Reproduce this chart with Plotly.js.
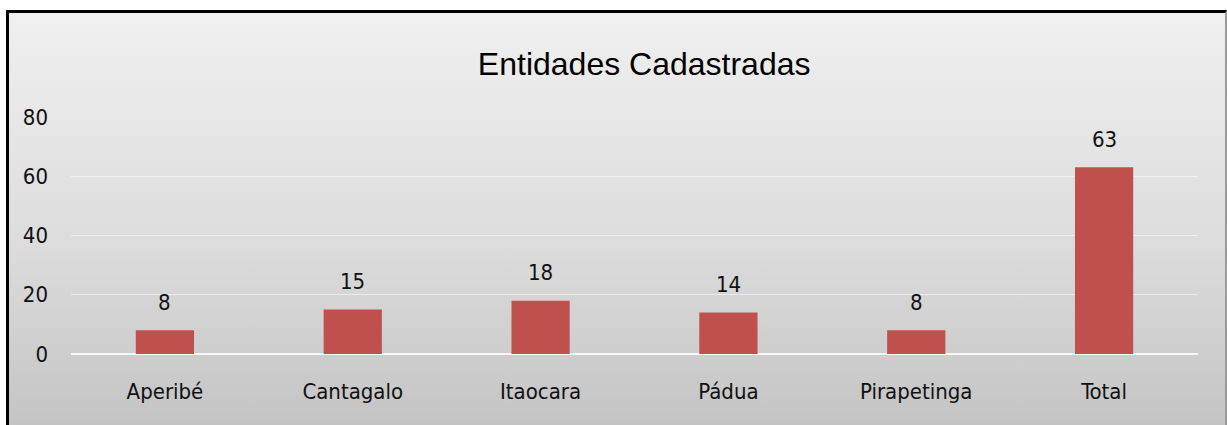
<!DOCTYPE html>
<html>
<head>
<meta charset="utf-8">
<script src="https://cdn.plot.ly/plotly-3.0.1.min.js"></script>
<style>
  html, body { margin: 0; padding: 0; width: 1227px; height: 425px; overflow: hidden; background: #ffffff; }
  #frame {
    position: absolute; left: 6px; top: 10px; width: 1216px; height: 420px;
    border-top: 3px solid #000; border-left: 3px solid #000; border-right: 2px solid #9a9a9a;
    background: linear-gradient(to bottom, #f0f0f0 0%, #dcdcdc 55%, #c3c3c3 100%);
  }
  #chart { position: absolute; left: 0; top: 0; width: 1227px; height: 425px; }
</style>
</head>
<body>
<div id="frame"></div>
<div id="chart"></div>
<script>
const categories = ["Aperibé", "Cantagalo", "Itaocara", "Pádua", "Pirapetinga", "Total"];
const values = [8, 15, 18, 14, 8, 63];
const yTicks = [0, 20, 40, 60, 80];
const chartTitle = "Entidades Cadastradas";

const labelFont = { family: "DejaVu Sans Condensed, Liberation Sans Narrow, sans-serif", size: 22, color: "#111111" };

const trace = {
  type: "bar",
  x: categories,
  y: values,
  marker: { color: "#C0504D", line: { width: 0 } },
  hoverinfo: "x+y"
};

const annotations = categories.map((c, i) => ({
  x: c, y: values[i], xref: "x", yref: "y",
  text: String(values[i]), showarrow: false,
  yanchor: "middle", yshift: 28,
  font: labelFont
}));

const layout = {
  width: 1227, height: 425,
  paper_bgcolor: "rgba(0,0,0,0)",
  plot_bgcolor: "rgba(0,0,0,0)",
  margin: { l: 71, r: 29, t: 117, b: 71, pad: 0 },
  bargap: 0.69,
  showlegend: false,
  title: {
    text: chartTitle,
    font: { family: "Liberation Sans, Arial, sans-serif", size: 32, color: "#000000" },
    x: 0.525, xanchor: "center", xref: "container",
    y: 1 - 64 / 425, yanchor: "middle", yref: "container"
  },
  xaxis: {
    type: "category",
    tickfont: labelFont,
    showgrid: false, showline: false, zeroline: false,
    ticks: "", ticklabelstandoff: 22
  },
  yaxis: {
    range: [0, 80],
    tickvals: yTicks,
    ticktext: yTicks.map(String),
    tickfont: labelFont,
    showgrid: true, gridcolor: "rgba(255,255,255,0.55)", gridwidth: 1,
    zeroline: true, zerolinecolor: "rgba(255,255,255,0.85)", zerolinewidth: 1.5,
    showline: false, ticks: "", ticklabelstandoff: 22
  },
  annotations: annotations
};

Plotly.newPlot("chart", [trace], layout, { displayModeBar: false, staticPlot: true });
</script>
</body>
</html>
